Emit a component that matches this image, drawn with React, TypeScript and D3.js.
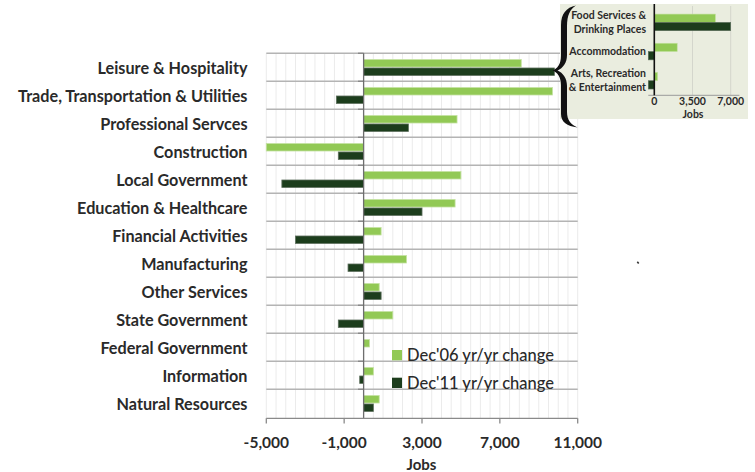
import React from "react";
import * as d3 from "d3";

const categories = [
  "Leisure & Hospitality",
  "Trade, Transportation & Utilities",
  "Professional Servces",
  "Construction",
  "Local Government",
  "Education & Healthcare",
  "Financial Activities",
  "Manufacturing",
  "Other Services",
  "State Government",
  "Federal Government",
  "Information",
  "Natural Resources",
];
const dec06 = [8100, 9700, 4800, -5600, 5000, 4700, 900, 2200, 800, 1500, 300, 500, 800];
const dec11 = [9800, -1400, 2300, -1300, -4200, 3000, -3500, -800, 900, -1300, 0, -200, 500];
const seriesNames = ["Dec'06 yr/yr change", "Dec'11 yr/yr change"];
const xTicks = [-5000, -1000, 3000, 7000, 11000];

const insetCategories = [
  ["Food Services &", "Drinking Places"],
  ["Accommodation"],
  ["Arts, Recreation", "& Entertainment"],
];
const insetDec06 = [5600, 2100, 300];
const insetDec11 = [7000, -600, -600];
const insetTicks = [0, 3500, 7000];

const LIGHT = "#92c955";
const DARK = "#1c3d1c";
const TEXT = "#2a2a2a";
const FONT = "Lato, 'Open Sans', sans-serif";
const fmt = (v: number) => d3.format(",")(v).replace("\u2212", "-");

export default function App() {
  const x = d3.scaleLinear().domain([-5000, 11000]).range([266.3, 577.7]);
  const y = d3.scaleBand<string>().domain(categories).range([53.3, 417.3]);
  const bh = y.bandwidth() * 0.265;
  const clampX = (v: number) => Math.max(-5000, Math.min(11000, v));
  const minor = d3.range(-5000, 11001, 500);

  const ix = d3.scaleLinear().domain([0, 7000]).range([654.3, 730.7]);
  const iyKeys = insetCategories.map((c) => c.join(" "));
  const iy = d3.scaleBand<string>().domain(iyKeys).range([7.8, 95.3]);
  const ibh = iy.bandwidth() * 0.285;
  const ixMin = -550;
  const ixMax = 7800;
  const iclamp = (v: number) => Math.max(ixMin, Math.min(ixMax, v));

  const bar = (v: number, sc: d3.ScaleLinear<number, number>, cl: (n: number) => number) => {
    const a = sc(0);
    const b = sc(cl(v));
    return { x: Math.min(a, b), w: Math.abs(b - a) };
  };

  const bracePath =
    "M 576 5.5 C 566 7.5, 561 14, 561 25 L 561 56 C 561 64, 557.5 68.5, 552.5 70.5 " +
    "C 557.5 72.5, 561 77, 561 85 L 561 114 C 561 122, 567 126, 577.5 127.5 " +
    "C 571 124.5, 567 120, 567 112 L 567 86 C 567 78, 563 73, 557.5 70.5 " +
    "C 563 68, 567 63, 567 55 L 567 26 C 567 15, 570 9.5, 576 5.5 Z";

  return (
    <svg
      width={755}
      height={472}
      style={{ position: "absolute", left: 0, top: 0, background: "#fff" }}
      fontFamily={FONT}
    >
      {/* minor gridlines */}
      {minor.map((t) => (
        <line key={"g" + t} x1={x(t)} x2={x(t)} y1={53.3} y2={418.3} stroke="#ebebeb" strokeWidth={1} />
      ))}
      {/* category separators */}
      {categories.map((c) => (
        <line key={"s" + c} x1={266.3} x2={577.7} y1={y(c)!} y2={y(c)!} stroke="#b4b4b4" strokeWidth={1.4} />
      ))}
      {/* separator ticks on the zero axis */}
      {categories.map((c) => (
        <line key={"st" + c} x1={358} x2={x(0)} y1={y(c)!} y2={y(c)!} stroke="#8a8a8a" strokeWidth={1.4} />
      ))}
      {/* bars */}
      {categories.map((c, i) => {
        const b1 = bar(dec06[i], x, clampX);
        const b2 = bar(dec11[i], x, clampX);
        const cy = y(c)! + y.bandwidth() / 2 + 0.2;
        return (
          <g key={"b" + c}>
            {b1.w > 0 && (
              <rect x={b1.x} y={cy - bh - 0.5} width={b1.w} height={bh} fill={LIGHT} stroke="#c4e2a0" strokeWidth={0.8} />
            )}
            {b2.w > 0 && (
              <rect x={b2.x} y={cy + 0.5} width={b2.w} height={bh} fill={DARK} stroke="#5c6e5c" strokeWidth={0.8} />
            )}
          </g>
        );
      })}
      {/* zero axis */}
      <line x1={x(0)} x2={x(0)} y1={53.3} y2={418.3} stroke="#6e6e6e" strokeWidth={1.3} />
      {/* bottom axis */}
      <line x1={266.3} x2={577.7} y1={418.3} y2={418.3} stroke="#8a8a8a" strokeWidth={1.3} />
      {xTicks.map((t) => (
        <g key={"t" + t}>
          <line x1={x(t)} x2={x(t)} y1={418.3} y2={423.5} stroke="#8a8a8a" strokeWidth={1.3} />
          <text x={x(t)} y={441.5} textAnchor="middle" dominantBaseline="central" fontSize={15.5} fontWeight={700} fill={TEXT}>
            {fmt(t)}
          </text>
        </g>
      ))}
      <text x={421.5} y={463.5} textAnchor="middle" dominantBaseline="central" fontSize={15} fontWeight={700} fill={TEXT}>
        Jobs
      </text>
      {/* category labels */}
      {categories.map((c) => (
        <text
          key={"l" + c}
          x={247.5}
          y={y(c)! + y.bandwidth() / 2}
          textAnchor="end"
          dominantBaseline="central"
          fontSize={16.2}
          fontWeight={700}
          fill={TEXT}
        >
          {c}
        </text>
      ))}
      {/* legend */}
      {seriesNames.map((s, i) => (
        <g key={"lg" + s}>
          <rect x={392} y={350 + i * 27.7} width={10} height={10.3} fill={i === 0 ? LIGHT : DARK} />
          <text x={407} y={355.3 + i * 27.7} dominantBaseline="central" fontSize={16.5} fontWeight={500} fill={TEXT}>
            {s}
          </text>
        </g>
      ))}
      {/* stray mark */}
      <path d="M 637.3 261.8 L 638.7 263.6" stroke="#333" strokeWidth={1.6} />

      {/* inset */}
      <rect x={560} y={4} width={188} height={115} fill="#eaeddf" />
      {insetTicks.slice(1).map((t) => (
        <line key={"ig" + t} x1={ix(t)} x2={ix(t)} y1={6} y2={95.3} stroke="#d4d6cc" strokeWidth={1} />
      ))}
      {iyKeys.map((k, i) => {
        const b1 = bar(insetDec06[i], ix, iclamp);
        const b2 = bar(insetDec11[i], ix, iclamp);
        const cy = iy(k)! + iy.bandwidth() / 2;
        return (
          <g key={"ib" + k}>
            <rect x={b1.x} y={cy - ibh} width={b1.w} height={ibh} fill={LIGHT} stroke="#c4e2a0" strokeWidth={0.6} />
            <rect x={b2.x} y={cy} width={b2.w} height={ibh} fill={DARK} stroke="#5c6e5c" strokeWidth={0.6} />
          </g>
        );
      })}
      <line x1={ix(ixMin)} x2={ix(ixMax)} y1={95.3} y2={95.3} stroke="#9a9a9a" strokeWidth={1} />
      <line x1={ix(0)} x2={ix(0)} y1={4} y2={95.3} stroke="#111" strokeWidth={1.6} />
      {insetTicks.map((t) => (
        <text key={"it" + t} x={ix(t)} y={101} textAnchor="middle" dominantBaseline="central" fontSize={10.5} fontWeight={700} fill={TEXT}>
          {fmt(t)}
        </text>
      ))}
      <text x={693} y={113.5} textAnchor="middle" dominantBaseline="central" fontSize={10.5} fontWeight={700} fill={TEXT}>
        Jobs
      </text>
      {iyKeys.map((k, i) => {
        const lines = insetCategories[i];
        const cy = iy(k)! + iy.bandwidth() / 2;
        return lines.map((ln, j) => (
          <text
            key={"il" + k + j}
            x={646}
            y={cy + (j - (lines.length - 1) / 2) * 13.7 - (lines.length === 1 ? 1 : 0.5)}
            textAnchor="end"
            dominantBaseline="central"
            fontSize={10.5}
            fontWeight={700}
            fill={TEXT}
          >
            {ln}
          </text>
        ));
      })}
      <path d={bracePath} fill="#111" />
    </svg>
  );
}
